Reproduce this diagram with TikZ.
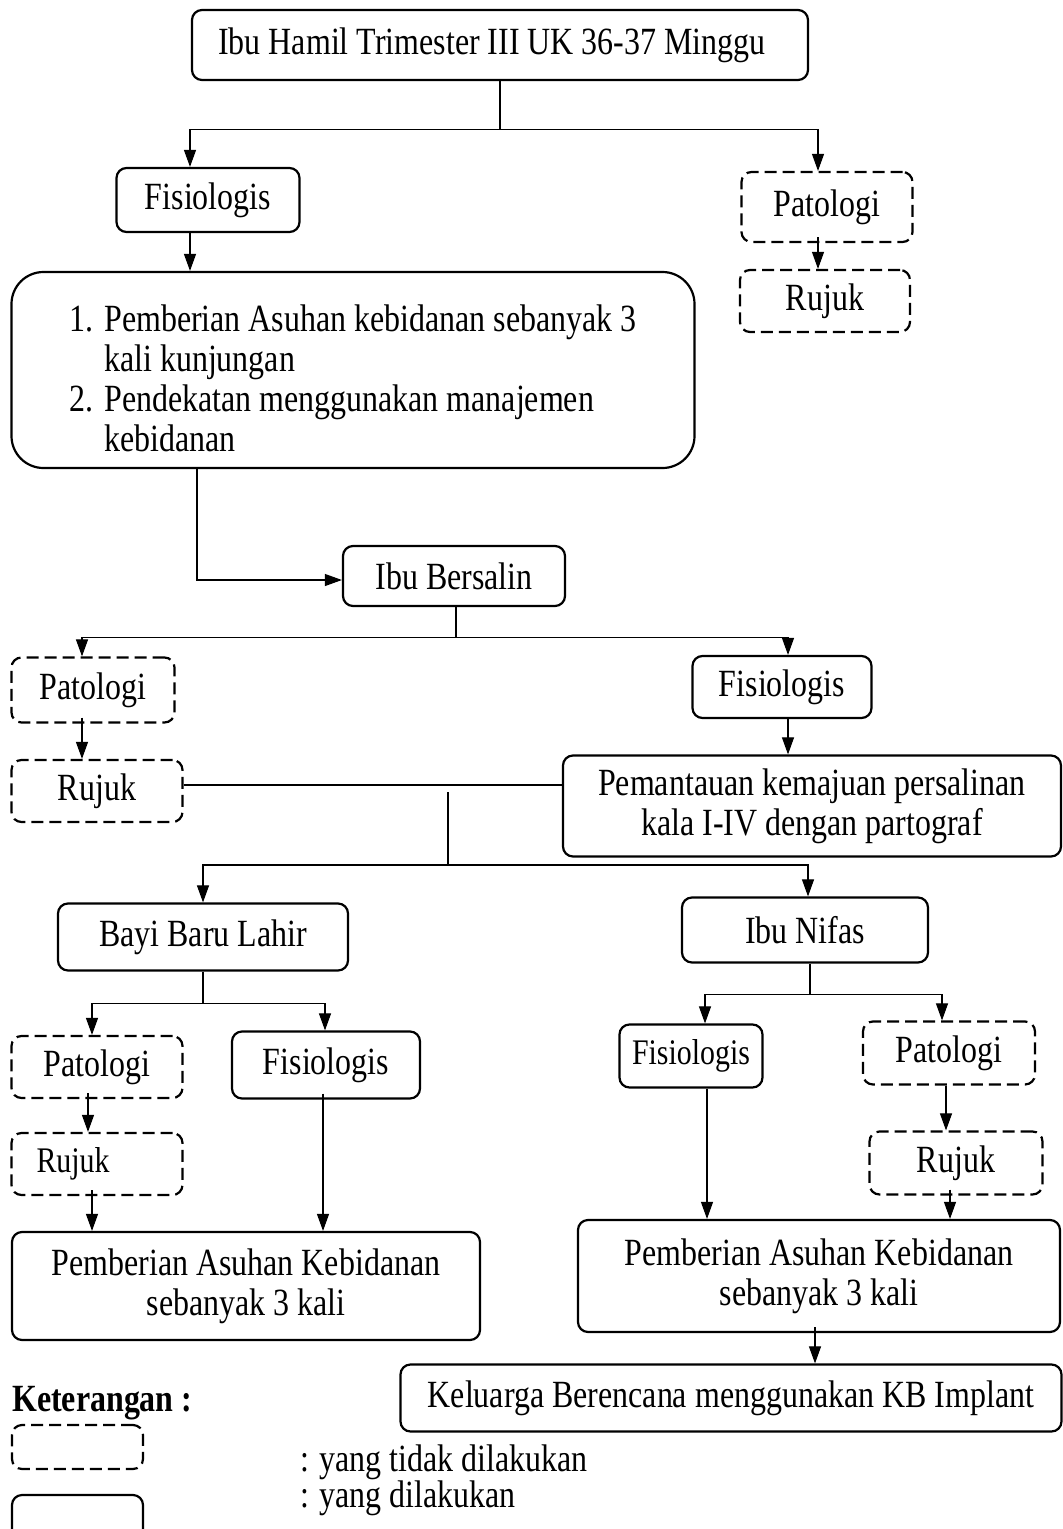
\documentclass[tikz,border=0pt]{standalone}
\usepackage{fontspec}
\setmainfont{Liberation Serif}[FakeStretch=0.83]
\usetikzlibrary{arrows.meta,calc}

\begin{document}
\begin{tikzpicture}[x=1pt, y=-1pt,
	font=\fontsize{38.5}{40}\selectfont,
	done/.style={draw=black, line width=2.2pt, rounded corners=10pt, align=center, inner sep=0pt},
	notdone/.style={done, dash pattern=on 12pt off 6pt},
	small/.style={font=\fontsize{36}{38}\selectfont},
	link/.style={line width=1.1pt, -{Triangle[length=17pt, width=12pt]}},
	line/.style={line width=1.1pt}]
	\useasboundingbox (0,0) rectangle (1063,1529);
	% antenatal
	\node [done, minimum width=616, minimum height=70] (0) at (500,45) {Ibu Hamil Trimester III UK 36-37 Minggu\hspace*{16pt}};
	\node [done, minimum width=183, minimum height=64] (1) at (208,200) {Fisiologis};
	\node [notdone, minimum width=171, minimum height=70] (2) at (827,207) {Patologi};
	\node [notdone, minimum width=170, minimum height=62] (3) at (825,301) {Rujuk};
	\node [done, rounded corners=32pt, minimum width=683, minimum height=196] (4) at (353,370) {\raisebox{-13pt}[\height][\depth]{\begin{tabular}{@{}l@{\hspace{11pt}}l@{}}
		1. & Pemberian Asuhan kebidanan sebanyak 3\\
		   & kali kunjungan\\
		2. & Pendekatan menggunakan manajemen\\
		   & kebidanan
	\end{tabular}}};
	% intranatal
	\node [done, minimum width=222, minimum height=60] (5) at (454,576) {Ibu Bersalin};
	\node [notdone, minimum width=163, minimum height=65] (6) at (93,690) {Patologi};
	\node [notdone, minimum width=171, minimum height=62] (7) at (97,791) {Rujuk};
	\node [done, minimum width=179, minimum height=62] (8) at (782,687) {Fisiologis};
	\node [done, minimum width=498, minimum height=101] (9) at (812,806) {Pemantauan kemajuan persalinan\\kala I-IV dengan partograf};
	% bayi baru lahir
	\node [done, minimum width=290, minimum height=67] (10) at (203,937) {Bayi Baru Lahir};
	\node [notdone, minimum width=171, minimum height=62] (12) at (97,1067) {Patologi};
	\node [done, minimum width=188, minimum height=67] (13) at (326,1065) {Fisiologis};
	\node [notdone, small, minimum width=171, minimum height=62, text width=121, align=left] (14) at (97,1164) {Rujuk};
	\node [done, minimum width=468, minimum height=108] (15) at (246,1286) {Pemberian Asuhan Kebidanan\\sebanyak 3 kali};
	% nifas
	\node [done, minimum width=246, minimum height=65] (11) at (805,930) {Ibu Nifas};
	\node [done, small, minimum width=143, minimum height=63] (16) at (691,1056) {Fisiologis};
	\node [notdone, minimum width=172, minimum height=63] (17) at (949,1053) {Patologi};
	\node [notdone, minimum width=173, minimum height=63] (18) at (956,1163) {Rujuk};
	\node [done, minimum width=482, minimum height=112] (19) at (819,1276) {Pemberian Asuhan Kebidanan\\sebanyak 3 kali};
	\node [done, minimum width=661, minimum height=67] (20) at (731,1398) {Keluarga Berencana menggunakan KB Implant};
	% keterangan
	\node [anchor=west, inner sep=0pt, font=\fontsize{38.5}{40}\selectfont\bfseries] (21) at (12,1403) {Keterangan :};
	\node [notdone, minimum width=131, minimum height=44] (22) at (77.5,1447) {};
	\node [done, minimum width=131, minimum height=46] (23) at (77.5,1518) {};
	\node [anchor=west, inner sep=0pt] (24) at (300,1462) {: yang tidak dilakukan};
	\node [anchor=west, inner sep=0pt] (25) at (300,1498) {: yang dilakukan};

	% connectors
	\coordinate (j0) at ($(0.south)+(0,48)$);
	\draw [line] (0.south) -- (j0);
	\draw [link] (j0) -| ($(1.north)+(-18,0)$);
	\draw [link] (j0) -| ($(2.north)+(-9,0)$);
	\coordinate (k2) at ($(2.south)+(-9,-6)$);
	\draw [link] (k2) -- (k2 |- 3.north);
	\coordinate (k1) at ($(1.south)+(-18,0)$);
	\draw [link] (k1) -- (k1 |- 4.north);
	\coordinate (k4) at ($(4.south)+(-156,0)$);
	\draw [link] (k4) |- ($(5.west)+(0,4)$);

	\coordinate (j5) at ($(5.south)+(2,30)$);
	\draw [line] ($(5.south)+(2,0)$) -- (j5);
	\draw [link] (j5) -| ($(6.north)+(-11,0)$);
	\draw [link] (j5) -| ($(8.north)+(6,0)$);
	\coordinate (k6) at ($(6.south)+(-11,-6)$);
	\draw [link] (k6) -- (k6 |- 7.north);
	\coordinate (k8) at ($(8.south)+(6,0)$);
	\draw [link] (k8) -- (k8 |- 9.north);
	\coordinate (m7) at ($(7.east)+(0,-6)$);
	\draw [line] (m7) -- (m7 -| 9.west);
	\coordinate (j7) at (448,792);
	\coordinate (j8) at (448,865);
	\draw [line] (j7) -- (j8);
	\draw [link] (j8) -| (10.north);
	\draw [link] (j8) -| ($(11.north)+(3,0)$);

	\coordinate (j10) at ($(10.south)+(0,32)$);
	\draw [line] (10.south) -- (j10);
	\draw [link] (j10) -| ($(12.north)+(-5,0)$);
	\draw [link] (j10) -| ($(13.north)+(-1,0)$);
	\coordinate (k12) at ($(12.south)+(-9,-6)$);
	\draw [link] (k12) -- (k12 |- 14.north);
	\coordinate (k14) at ($(14.south)+(-5,-6)$);
	\draw [link] (k14) -- (k14 |- 15.north);
	\coordinate (k13) at ($(13.south)+(-3,-6)$);
	\draw [link] (k13) -- (k13 |- 15.north);

	\coordinate (j11) at ($(11.south)+(5,31)$);
	\draw [line] ($(11.south)+(5,0)$) -- (j11);
	\draw [link] (j11) -| ($(16.north)+(14,0)$);
	\draw [link] (j11) -| ($(17.north)+(-7,0)$);
	\coordinate (k16) at ($(16.south)+(16,0)$);
	\draw [link] (k16) -- (k16 |- 19.north);
	\coordinate (k17) at ($(17.south)+(-3,0)$);
	\draw [link] (k17) -- (k17 |- 18.north);
	\coordinate (k18) at ($(18.south)+(-6,-6)$);
	\draw [link] (k18) -- (k18 |- 19.north);
	\coordinate (k19) at ($(19.south)+(-4,-6)$);
	\draw [link] (k19) -- (k19 |- 20.north);
\end{tikzpicture}
\end{document}
